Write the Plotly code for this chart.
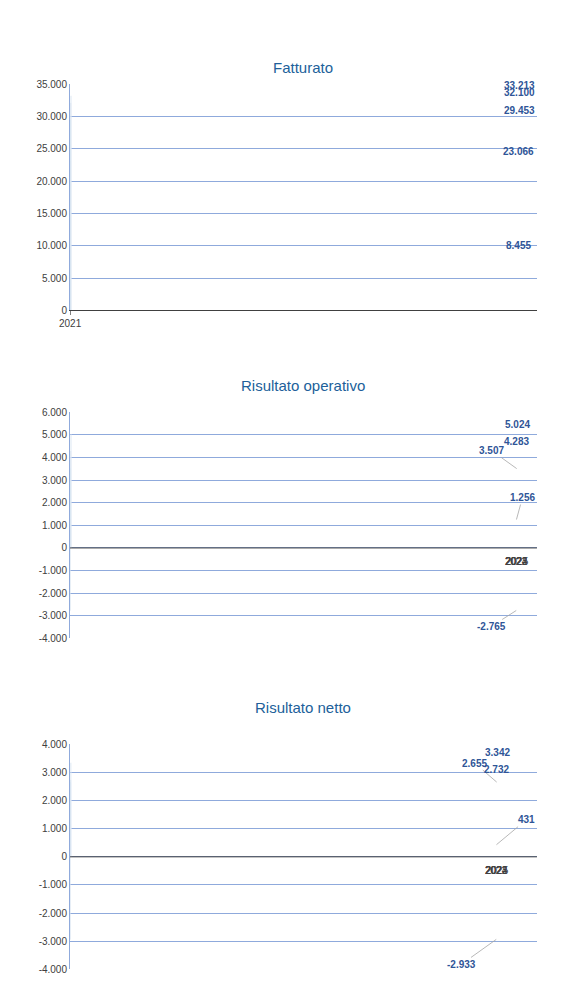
import plotly.graph_objects as go

years = ["2021", "2022", "2023", "2024", "2025"]
fatturato = [8455, 23066, 29453, 32100, 33213]
operativo = [-2765, 1256, 3507, 4283, 5024]
netto = [-2933, 431, 2655, 2732, 3342]
titles = ["Fatturato", "Risultato operativo", "Risultato netto"]

def fmt(v):
    s = f"{abs(v):,}".replace(",", ".")
    return ("-" if v < 0 else "") + s

BAR = "#215F9A"
LBL = "#2F5597"
GRID = "#8FAADC"
TXT = "#404040"
H = 1006
doms = [(71, 300), (403, 632), (739, 967)]
ranges = [(0, 35000, 5000), (-4000, 6000, 1000), (-4000, 4000, 1000)]
series = [fatturato, operativo, netto]
offsets = [
    [None] * 5,
    [(-25, 16), (6, -22), (-25, -18), None, None],
    [(-35, 25), (30, -25), (-22, -19), None, None],
]

fig = go.Figure()
ann = []
for i in range(3):
    xa = "x" if i == 0 else f"x{i+1}"
    ya = "y" if i == 0 else f"y{i+1}"
    lo, hi, st = ranges[i]
    fig.add_trace(go.Bar(x=years, y=series[i], marker_color=BAR, width=0.4,
                         xaxis=xa, yaxis=ya, showlegend=False))
    top, bot = doms[i]
    fig.layout[f"yaxis{'' if i == 0 else i+1}"] = dict(
        domain=[1 - bot / H, 1 - top / H], range=[lo, hi],
        tickvals=list(range(lo, hi + 1, st)),
        ticktext=[fmt(v) for v in range(lo, hi + 1, st)],
        showgrid=True, gridcolor=GRID, gridwidth=1, zeroline=False,
        showline=True, linecolor=GRID, tickfont=dict(size=10, color=TXT),
        fixedrange=True, anchor=xa)
    fig.layout[f"xaxis{'' if i == 0 else i+1}"] = dict(
        type="category", domain=[0.0898, 0.9119], anchor=ya, showticklabels=(i == 0),
        tickfont=dict(size=10, color=TXT), showline=(i == 0), linecolor="#404040",
        ticks="outside" if i == 0 else "", tickcolor="#808080", ticklen=4,
        showgrid=False, zeroline=False)
    if i > 0:
        fig.add_shape(type="line", xref=f"{xa} domain", yref=ya, x0=0, x1=1,
                      y0=0, y1=0, line=dict(color="#404040", width=1))
        for j, y in enumerate(years):
            if series[i][j] > 0:
                ann.append(dict(x=y, y=0, xref=xa, yref=ya, text=y, showarrow=False,
                                yshift=-14, font=dict(size=10, color=TXT)))
    ann.append(dict(x=0.5, y=1 - (top - 27) / H, xref="paper", yref="paper",
                    text=titles[i], showarrow=False, font=dict(size=15, color=BAR)))
    for j, v in enumerate(series[i]):
        off = offsets[i][j]
        base = dict(x=years[j], y=v, xref=xa, yref=ya, text=f"<b>{fmt(v)}</b>",
                    font=dict(size=10, color=LBL))
        if off is None:
            base.update(showarrow=False, yshift=10 if v >= 0 else -10)
        else:
            base.update(showarrow=True, arrowhead=0, arrowwidth=0.8,
                        arrowcolor="#A6A6A6", ax=off[0], ay=off[1], standoff=0)
        ann.append(base)

fig.update_layout(width=579, height=H, margin=dict(l=0, r=0, t=0, b=0),
                  plot_bgcolor="white", paper_bgcolor="white",
                  font=dict(family="Liberation Sans, Arial"), annotations=ann)
fig.write_html("out.html")
